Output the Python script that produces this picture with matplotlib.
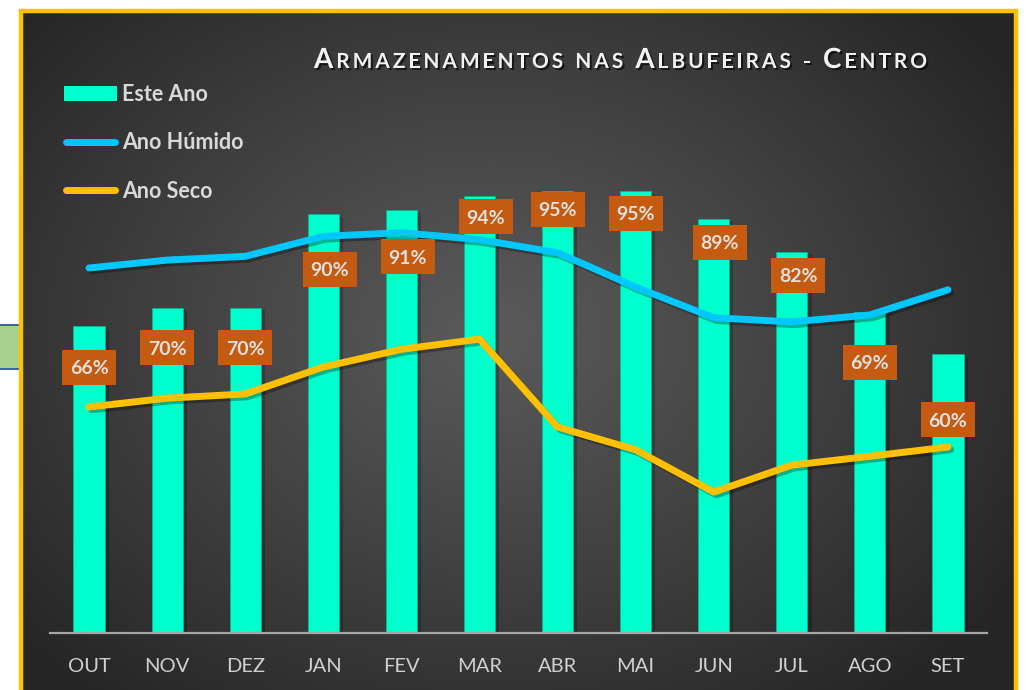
import numpy as np
import matplotlib
matplotlib.use("Agg")
import matplotlib.pyplot as plt
from matplotlib.patches import Rectangle
from matplotlib.lines import Line2D
import matplotlib.patheffects as pe

# ---------------- data ----------------
months = ["OUT", "NOV", "DEZ", "JAN", "FEV", "MAR", "ABR", "MAI", "JUN", "JUL", "AGO", "SET"]
este_ano = [66, 70, 70, 90, 91, 94, 95, 95, 89, 82, 69, 60]
ano_humido = [78.5, 80.2, 81.0, 85.3, 86.1, 84.6, 81.8, 74.4, 67.8, 66.9, 68.4, 73.8]
ano_seco = [48.6, 50.5, 51.4, 57.2, 61.0, 63.2, 44.3, 39.4, 30.3, 36.1, 38.0, 40.0]
title = "Armazenamentos nas Albufeiras - Centro"
series_names = ["Este Ano", "Ano Húmido", "Ano Seco"]

# label placement (data units) – manual positions in the original chart
label_y = [57.1, 61.3, 61.3, 78.2, 80.9, 89.5, 91.1, 90.3, 84.0, 76.9, 58.2, 45.9]
label_dx = [0, 0, 0, 0.08, 0.08, 0.08, 0, 0, 0.08, 0.08, 0, 0]

# ---------------- style ----------------
FONT = "Lato"
BAR_C = "#00FFCC"
HUM_C = "#00C8FF"
SECO_C = "#FFC000"
LBL_BG = "#C55A11"
TXT_C = "#D9D9D9"

W, H = 1029, 690
fig = plt.figure(figsize=(W / 100, H / 100), dpi=100, facecolor="white")


def fx(px):
    return px / W


def fy(py):
    return 1 - py / H


# small green box outside the chart (left)
fig.add_artist(Rectangle((fx(-5), fy(369)), fx(24), 44 / H, transform=fig.transFigure,
                         facecolor="#A9D18E", edgecolor="none", zorder=0))
for yy in (325, 369):
    fig.add_artist(Line2D([0, fx(19)], [fy(yy), fy(yy)], color="#2F5597", lw=1.3,
                          transform=fig.transFigure, zorder=1))

# background gradient panel
x0, x1, y0, y1 = 21, 1016, 11, 700
bg = fig.add_axes([fx(x0), fy(y1), fx(x1 - x0), (y1 - y0) / H])
bg.set_axis_off()
nx, ny = x1 - x0, y1 - y0
xx, yy = np.meshgrid(np.arange(nx) + x0, np.arange(ny) + y0)
cx, cy = 490, 330
r = np.sqrt(((xx - cx) / 620) ** 2 + ((yy - cy) / 470) ** 2)
r = np.clip(r, 0, 1)
light = np.array([0x5a, 0x5a, 0x5a]) / 255
dark = np.array([0x26, 0x26, 0x26]) / 255
t = r[..., None] ** 1.1
img = light * (1 - t) + dark * t
bg.imshow(img, aspect="auto", extent=(0, 1, 0, 1), origin="upper")
bg.set_xlim(0, 1)
bg.set_ylim(0, 1)

# gold frame
fig.add_artist(Rectangle((fx(x0), fy(y1)), fx(x1 - x0), (y1 - y0) / H, transform=fig.transFigure,
                         facecolor="none", edgecolor=SECO_C, lw=3.2, zorder=10))

# ---------------- main axes ----------------
ax = fig.add_axes([fx(50), fy(633), fx(937), 558 / H])
ax.set_facecolor("none")
ax.set_xlim(-0.5, 11.5)
ax.set_ylim(0, 120)
x = np.arange(len(months))

bars = ax.bar(x, este_ano, width=0.4, color=BAR_C, edgecolor="#00B894", lw=0.6, zorder=2)
for b in bars:
    b.set_path_effects([pe.SimplePatchShadow(offset=(3, -2), shadow_rgbFace="black", alpha=0.22),
                        pe.Normal()])

shadow = [pe.SimpleLineShadow(offset=(2, -2), shadow_color="black", alpha=0.3), pe.Normal()]
ax.plot(x, ano_humido, color=HUM_C, lw=5, solid_capstyle="round", solid_joinstyle="round",
        zorder=3, path_effects=shadow)
ax.plot(x, ano_seco, color=SECO_C, lw=5, solid_capstyle="round", solid_joinstyle="round",
        zorder=3, path_effects=shadow)

# data labels
bw, bh = 54 / 78.1, 35 / 4.65
for xi, v, ly, dx in zip(x, este_ano, label_y, label_dx):
    ax.add_patch(Rectangle((xi + dx - bw / 2, ly - bh / 2), bw, bh, facecolor=LBL_BG,
                           edgecolor="none", zorder=5))
    ax.text(xi + dx, ly, f"{v}%", ha="center", va="center_baseline", fontsize=14,
            fontweight="bold", color="#E4E0DE", family=FONT, zorder=6)

for s in ("top", "left", "right"):
    ax.spines[s].set_visible(False)
ax.spines["bottom"].set_color("#A6A6A6")
ax.spines["bottom"].set_linewidth(1.6)
ax.set_yticks([])
ax.set_xticks(x, months)
ax.tick_params(axis="x", length=0, pad=18, labelsize=14.5, labelcolor="#D0D0D0")
for lab in ax.get_xticklabels():
    lab.set_family(FONT)

# ---------------- legend ----------------
fig.add_artist(Rectangle((fx(64), fy(101)), fx(53), 15 / H, transform=fig.transFigure,
                         facecolor=BAR_C, edgecolor="none", zorder=5))
for yy_, col in ((142, HUM_C), (190, SECO_C)):
    fig.add_artist(Line2D([fx(66), fx(115)], [fy(yy_), fy(yy_)], color=col, lw=5,
                          solid_capstyle="round", transform=fig.transFigure, zorder=5))
for name, base in zip(series_names, (101, 149, 198)):
    fig.text(fx(122), fy(base), name, ha="left", va="baseline", fontsize=15.5,
             fontweight="bold", color=TXT_C, family=FONT, zorder=6)

# ---------------- title (small caps with letter spacing) ----------------
renderer = fig.canvas.get_renderer()
big, small = 20, 15
tx0, tx1, tbase = 314, 927, 68
title_shadow = [pe.withSimplePatchShadow(offset=(1.5, -1.5), shadow_rgbFace="black", alpha=0.6)]
chars = []
for ch in title:
    if ch == " ":
        chars.append((None, 0))
        continue
    size = big if ch.isupper() else small
    tt = fig.text(0, fy(tbase), ch.upper(), fontsize=size, fontweight="bold", color="#F2F2F2",
                  family=FONT, ha="left", va="baseline", path_effects=title_shadow, zorder=6)
    w = tt.get_window_extent(renderer).width
    chars.append((tt, w))
space_w = 6.0
total_w = sum(w for _, w in chars) + space_w * sum(1 for c, _ in chars if c is None)
n_gaps = len(chars) - 1
sp = (tx1 - tx0 - total_w) / n_gaps
pos = tx0
for tt, w in chars:
    if tt is None:
        pos += space_w + sp
        continue
    tt.set_x(fx(pos))
    pos += w + sp

fig.savefig("out.png", dpi=100, facecolor="white")
